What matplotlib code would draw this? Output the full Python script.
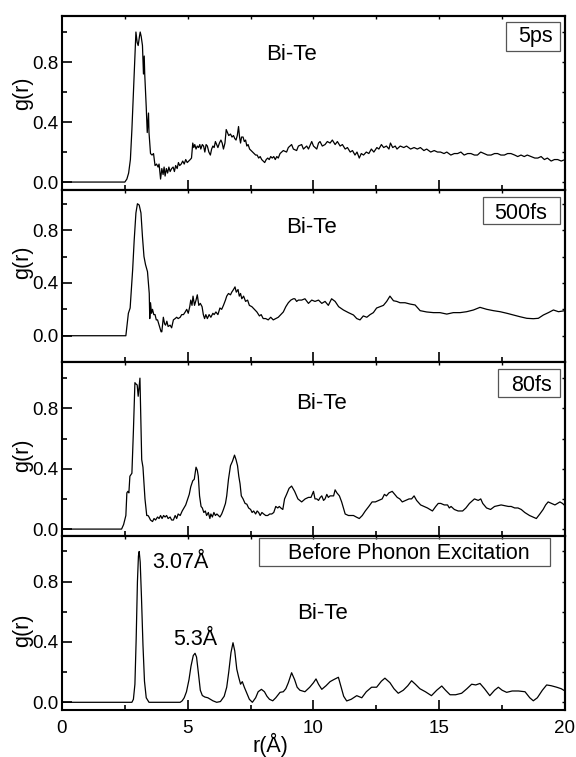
import numpy as np
import matplotlib
matplotlib.use("Agg")
import matplotlib.pyplot as plt
from matplotlib.patches import Rectangle

plt.rcParams["font.family"] = ["Liberation Sans", "DejaVu Sans"]

# g(r), (r, g) pairs
gr_5ps = np.array([
    (0, 0), (2.5, 0), (2.58, 0.02), (2.65, 0.06), (2.72, 0.15), (2.78, 0.35), (2.84, 0.6), (2.9, 0.85),
    (2.94, 1.0), (2.99, 0.93), (3.03, 0.91), (3.08, 0.97), (3.11, 1.0), (3.15, 0.97), (3.2, 0.91),
    (3.24, 0.72), (3.27, 0.84), (3.29, 0.72), (3.35, 0.5), (3.39, 0.33), (3.44, 0.46), (3.46, 0.33),
    (3.52, 0.19), (3.58, 0.18), (3.64, 0.19), (3.7, 0.11), (3.76, 0.12), (3.82, 0.1), (3.86, 0.12),
    (3.92, 0.02), (3.97, 0.09), (4.02, 0.05), (4.06, 0.1), (4.1, 0.04), (4.15, 0.09), (4.2, 0.06),
    (4.25, 0.1), (4.3, 0.07), (4.36, 0.09), (4.42, 0.1), (4.47, 0.07), (4.52, 0.11), (4.58, 0.09),
    (4.63, 0.13), (4.68, 0.11), (4.74, 0.12), (4.8, 0.14), (4.86, 0.12), (4.92, 0.15), (4.98, 0.13),
    (5.04, 0.14), (5.1, 0.15), (5.15, 0.16), (5.2, 0.26), (5.24, 0.23), (5.28, 0.25), (5.33, 0.22),
    (5.38, 0.24), (5.43, 0.23), (5.48, 0.25), (5.52, 0.22), (5.58, 0.25), (5.63, 0.24), (5.68, 0.2),
    (5.73, 0.25), (5.78, 0.24), (5.84, 0.2), (5.9, 0.18), (5.95, 0.22), (6.0, 0.24), (6.05, 0.23),
    (6.1, 0.27), (6.15, 0.25), (6.2, 0.23), (6.26, 0.26), (6.32, 0.28), (6.37, 0.26), (6.42, 0.22),
    (6.48, 0.26), (6.53, 0.35), (6.58, 0.33), (6.63, 0.31), (6.7, 0.32), (6.76, 0.3), (6.82, 0.31),
    (6.87, 0.29), (6.92, 0.28), (6.97, 0.31), (7.02, 0.37), (7.06, 0.3), (7.1, 0.26), (7.14, 0.3),
    (7.2, 0.3), (7.25, 0.27), (7.3, 0.28), (7.35, 0.24), (7.4, 0.25), (7.46, 0.22), (7.52, 0.21),
    (7.58, 0.2), (7.64, 0.19), (7.7, 0.18), (7.76, 0.18), (7.82, 0.16), (7.88, 0.17), (7.94, 0.15),
    (8.0, 0.14), (8.06, 0.13), (8.12, 0.15), (8.18, 0.16), (8.24, 0.15), (8.3, 0.17), (8.36, 0.16),
    (8.42, 0.17), (8.48, 0.15), (8.54, 0.17), (8.6, 0.16), (8.67, 0.19), (8.8, 0.21), (8.93, 0.2),
    (9.0, 0.23), (9.13, 0.25), (9.2, 0.22), (9.33, 0.21), (9.4, 0.24), (9.53, 0.25), (9.6, 0.22),
    (9.73, 0.24), (9.8, 0.22), (9.93, 0.27), (10.0, 0.24), (10.13, 0.22), (10.2, 0.26), (10.26, 0.27),
    (10.35, 0.24), (10.46, 0.25), (10.55, 0.27), (10.66, 0.26), (10.75, 0.28), (10.86, 0.25),
    (10.95, 0.27), (11.06, 0.24), (11.15, 0.25), (11.26, 0.22), (11.35, 0.23), (11.46, 0.2),
    (11.55, 0.21), (11.65, 0.18), (11.73, 0.2), (11.82, 0.16), (11.9, 0.19), (11.99, 0.18),
    (12.1, 0.2), (12.2, 0.19), (12.3, 0.22), (12.4, 0.2), (12.52, 0.23), (12.6, 0.22), (12.7, 0.25),
    (12.79, 0.23), (12.9, 0.24), (13.0, 0.22), (13.06, 0.26), (13.15, 0.23), (13.25, 0.24),
    (13.32, 0.22), (13.45, 0.24), (13.59, 0.23), (13.7, 0.24), (13.86, 0.22), (14.0, 0.23),
    (14.13, 0.22), (14.25, 0.23), (14.39, 0.21), (14.5, 0.22), (14.66, 0.2), (14.8, 0.21),
    (14.93, 0.2), (15.05, 0.2), (15.19, 0.19), (15.3, 0.2), (15.46, 0.18), (15.6, 0.19),
    (15.73, 0.19), (15.86, 0.2), (15.99, 0.18), (16.13, 0.19), (16.26, 0.19), (16.4, 0.18),
    (16.52, 0.18), (16.65, 0.2), (16.79, 0.19), (16.92, 0.18), (17.06, 0.18), (17.2, 0.19),
    (17.32, 0.19), (17.45, 0.18), (17.59, 0.18), (17.72, 0.19), (17.85, 0.19), (18.0, 0.18),
    (18.12, 0.17), (18.25, 0.18), (18.38, 0.17), (18.5, 0.18), (18.65, 0.17), (18.8, 0.16),
    (18.92, 0.16), (19.05, 0.17), (19.18, 0.15), (19.3, 0.16), (19.45, 0.14), (19.58, 0.15),
    (19.71, 0.15), (19.85, 0.14), (20.0, 0.15),
])

gr_500fs = np.array([
    (0, 0), (2.54, 0), (2.6, 0.1), (2.64, 0.17), (2.71, 0.21), (2.76, 0.35), (2.81, 0.5), (2.87, 0.72),
    (2.94, 0.93), (3.0, 1.0), (3.07, 0.99), (3.14, 0.93), (3.2, 0.75), (3.26, 0.6), (3.32, 0.54),
    (3.4, 0.485), (3.47, 0.32), (3.49, 0.13), (3.52, 0.25), (3.56, 0.17), (3.6, 0.2), (3.65, 0.16),
    (3.7, 0.16), (3.75, 0.12), (3.8, 0.12), (3.88, 0.07), (3.94, 0.03), (3.97, 0.03), (4.03, 0.14),
    (4.08, 0.09), (4.12, 0.08), (4.17, 0.11), (4.22, 0.07), (4.3, 0.08), (4.36, 0.06), (4.43, 0.12),
    (4.5, 0.13), (4.56, 0.14), (4.62, 0.13), (4.7, 0.14), (4.76, 0.16), (4.83, 0.16), (4.9, 0.18),
    (4.96, 0.2), (5.02, 0.17), (5.08, 0.22), (5.12, 0.27), (5.17, 0.23), (5.21, 0.3), (5.27, 0.23),
    (5.33, 0.27), (5.38, 0.31), (5.44, 0.23), (5.5, 0.245), (5.57, 0.22), (5.62, 0.16), (5.67, 0.13),
    (5.72, 0.16), (5.78, 0.13), (5.85, 0.16), (5.92, 0.14), (6.0, 0.17), (6.05, 0.16), (6.12, 0.18),
    (6.2, 0.16), (6.28, 0.21), (6.35, 0.2), (6.42, 0.23), (6.5, 0.27), (6.55, 0.3), (6.62, 0.32),
    (6.7, 0.31), (6.75, 0.33), (6.82, 0.35), (6.88, 0.37), (6.93, 0.33), (7.0, 0.35), (7.05, 0.3),
    (7.1, 0.32), (7.15, 0.28), (7.22, 0.3), (7.3, 0.26), (7.38, 0.27), (7.45, 0.23), (7.55, 0.22),
    (7.65, 0.2), (7.75, 0.18), (7.85, 0.15), (7.92, 0.16), (8.0, 0.13), (8.1, 0.13), (8.2, 0.12),
    (8.3, 0.14), (8.4, 0.12), (8.5, 0.13), (8.6, 0.14), (8.7, 0.16), (8.8, 0.18), (8.9, 0.22),
    (9.0, 0.25), (9.1, 0.27), (9.2, 0.28), (9.26, 0.28), (9.33, 0.26), (9.4, 0.27), (9.53, 0.27),
    (9.66, 0.28), (9.8, 0.245), (9.93, 0.27), (10.06, 0.26), (10.2, 0.27), (10.33, 0.245),
    (10.46, 0.26), (10.59, 0.23), (10.72, 0.28), (10.86, 0.26), (11.0, 0.22), (11.19, 0.195),
    (11.39, 0.175), (11.59, 0.157), (11.72, 0.13), (11.85, 0.12), (11.98, 0.15), (12.12, 0.14),
    (12.25, 0.16), (12.38, 0.175), (12.51, 0.21), (12.65, 0.22), (12.78, 0.23), (12.91, 0.26),
    (13.04, 0.3), (13.18, 0.265), (13.31, 0.26), (13.44, 0.25), (13.64, 0.25), (13.84, 0.24),
    (14.04, 0.233), (14.24, 0.19), (14.5, 0.18), (14.77, 0.175), (15.03, 0.175), (15.3, 0.164),
    (15.56, 0.175), (15.83, 0.175), (16.09, 0.182), (16.36, 0.195), (16.62, 0.215), (16.89, 0.2),
    (17.15, 0.19), (17.42, 0.182), (17.69, 0.17), (17.95, 0.157), (18.21, 0.144), (18.48, 0.132),
    (18.74, 0.129), (18.94, 0.132), (19.14, 0.157), (19.34, 0.175), (19.54, 0.195), (19.74, 0.182),
    (20.0, 0.19),
])

gr_80fs = np.array([
    (0, 0), (2.37, 0), (2.45, 0.03), (2.54, 0.09), (2.58, 0.24), (2.62, 0.25), (2.66, 0.24), (2.7, 0.35),
    (2.78, 0.37), (2.84, 0.65), (2.9, 0.97), (2.95, 0.96), (2.99, 0.955), (3.03, 0.88), (3.07, 0.95),
    (3.1, 1.0), (3.14, 0.7), (3.17, 0.46), (3.22, 0.41), (3.3, 0.2), (3.37, 0.09), (3.42, 0.09),
    (3.46, 0.08), (3.52, 0.06), (3.6, 0.05), (3.66, 0.07), (3.72, 0.06), (3.8, 0.08), (3.86, 0.07),
    (3.92, 0.09), (3.98, 0.07), (4.04, 0.09), (4.1, 0.08), (4.16, 0.09), (4.22, 0.07), (4.3, 0.08),
    (4.36, 0.06), (4.43, 0.06), (4.5, 0.09), (4.56, 0.07), (4.62, 0.1), (4.7, 0.09), (4.78, 0.12),
    (4.85, 0.14), (4.92, 0.16), (5.0, 0.2), (5.06, 0.23), (5.12, 0.28), (5.2, 0.32), (5.26, 0.33),
    (5.33, 0.41), (5.38, 0.39), (5.42, 0.35), (5.47, 0.22), (5.53, 0.15), (5.58, 0.14), (5.64, 0.11),
    (5.7, 0.12), (5.75, 0.09), (5.82, 0.11), (5.88, 0.07), (5.92, 0.1), (5.98, 0.08), (6.04, 0.11),
    (6.1, 0.09), (6.16, 0.1), (6.22, 0.09), (6.28, 0.08), (6.35, 0.1), (6.42, 0.13), (6.5, 0.17),
    (6.55, 0.22), (6.62, 0.33), (6.7, 0.42), (6.78, 0.45), (6.86, 0.49), (6.92, 0.46), (6.98, 0.42),
    (7.03, 0.35), (7.08, 0.3), (7.13, 0.22), (7.2, 0.2), (7.28, 0.17), (7.35, 0.165), (7.42, 0.14),
    (7.5, 0.13), (7.56, 0.11), (7.62, 0.12), (7.7, 0.1), (7.76, 0.12), (7.82, 0.11), (7.88, 0.09),
    (7.95, 0.11), (8.02, 0.1), (8.1, 0.09), (8.18, 0.09), (8.26, 0.1), (8.34, 0.1), (8.42, 0.11),
    (8.5, 0.15), (8.58, 0.14), (8.64, 0.15), (8.7, 0.14), (8.78, 0.13), (8.85, 0.2), (8.93, 0.23),
    (9.03, 0.27), (9.13, 0.285), (9.25, 0.25), (9.38, 0.2), (9.53, 0.18), (9.67, 0.2), (9.8, 0.21),
    (9.9, 0.21), (10.0, 0.25), (10.06, 0.2), (10.13, 0.2), (10.2, 0.19), (10.27, 0.21), (10.33, 0.22),
    (10.4, 0.19), (10.46, 0.2), (10.53, 0.23), (10.59, 0.21), (10.66, 0.22), (10.73, 0.22),
    (10.8, 0.22), (10.86, 0.26), (10.93, 0.24), (11.03, 0.22), (11.12, 0.18), (11.19, 0.14),
    (11.26, 0.1), (11.39, 0.09), (11.5, 0.09), (11.59, 0.09), (11.7, 0.08), (11.82, 0.07),
    (11.94, 0.09), (12.06, 0.12), (12.2, 0.15), (12.33, 0.18), (12.46, 0.18), (12.6, 0.19),
    (12.73, 0.2), (12.82, 0.23), (12.9, 0.22), (13.0, 0.24), (13.13, 0.25), (13.23, 0.23),
    (13.33, 0.21), (13.43, 0.2), (13.53, 0.18), (13.66, 0.19), (13.8, 0.2), (13.9, 0.2), (14.0, 0.22),
    (14.1, 0.19), (14.26, 0.16), (14.4, 0.15), (14.53, 0.14), (14.63, 0.13), (14.73, 0.12),
    (14.86, 0.15), (14.96, 0.17), (15.06, 0.17), (15.2, 0.16), (15.33, 0.16), (15.4, 0.14),
    (15.47, 0.15), (15.6, 0.13), (15.75, 0.12), (15.93, 0.12), (16.06, 0.14), (16.2, 0.17),
    (16.33, 0.19), (16.4, 0.2), (16.55, 0.19), (16.65, 0.2), (16.73, 0.17), (16.88, 0.14),
    (17.04, 0.13), (17.2, 0.15), (17.33, 0.155), (17.46, 0.16), (17.6, 0.155), (17.75, 0.15),
    (17.86, 0.15), (18.0, 0.14), (18.13, 0.14), (18.26, 0.13), (18.4, 0.11), (18.59, 0.09),
    (18.72, 0.08), (18.86, 0.07), (19.0, 0.1), (19.13, 0.13), (19.23, 0.16), (19.33, 0.18),
    (19.46, 0.17), (19.6, 0.16), (19.7, 0.17), (19.8, 0.18), (19.9, 0.17), (20.0, 0.155),
])

gr_before = np.array([
    (0, 0), (2.78, 0), (2.84, 0.02), (2.9, 0.12), (2.95, 0.42), (3.0, 0.8), (3.04, 0.97), (3.07, 1.0),
    (3.11, 0.93), (3.16, 0.7), (3.22, 0.38), (3.28, 0.14), (3.35, 0.03), (3.46, 0.0), (4.7, 0.0),
    (4.78, 0.01), (4.86, 0.03), (4.95, 0.07), (5.05, 0.15), (5.13, 0.24), (5.22, 0.31), (5.29, 0.325),
    (5.35, 0.3), (5.42, 0.2), (5.5, 0.08), (5.58, 0.045), (5.68, 0.035), (5.8, 0.03), (5.9, 0.02),
    (6.0, 0.01), (6.15, 0.0), (6.3, 0.005), (6.45, 0.04), (6.55, 0.1), (6.63, 0.2), (6.72, 0.33),
    (6.8, 0.395), (6.87, 0.34), (6.95, 0.22), (7.02, 0.17), (7.1, 0.12), (7.17, 0.137), (7.25, 0.1),
    (7.35, 0.06), (7.45, 0.02), (7.57, 0.0), (7.7, 0.03), (7.8, 0.07), (7.93, 0.086), (8.05, 0.07),
    (8.15, 0.04), (8.25, 0.02), (8.38, 0.01), (8.5, 0.03), (8.67, 0.066), (8.8, 0.07), (8.9, 0.09),
    (9.0, 0.13), (9.13, 0.196), (9.25, 0.15), (9.35, 0.1), (9.46, 0.08), (9.66, 0.07), (9.85, 0.1),
    (10.0, 0.13), (10.1, 0.155), (10.2, 0.12), (10.33, 0.086), (10.5, 0.11), (10.66, 0.137),
    (10.8, 0.15), (10.99, 0.166), (11.1, 0.1), (11.2, 0.04), (11.32, 0.009), (11.5, 0.02),
    (11.72, 0.044), (11.92, 0.03), (12.1, 0.07), (12.31, 0.1), (12.51, 0.1), (12.7, 0.14),
    (12.84, 0.16), (13.04, 0.13), (13.2, 0.09), (13.37, 0.06), (13.57, 0.08), (13.75, 0.11),
    (13.9, 0.143), (14.05, 0.12), (14.23, 0.09), (14.45, 0.07), (14.69, 0.044), (14.9, 0.08),
    (15.1, 0.108), (15.25, 0.08), (15.43, 0.05), (15.65, 0.05), (15.89, 0.06), (16.1, 0.09),
    (16.29, 0.12), (16.45, 0.115), (16.62, 0.125), (16.8, 0.09), (17.01, 0.044), (17.2, 0.08),
    (17.35, 0.1), (17.5, 0.08), (17.68, 0.066), (17.9, 0.075), (18.15, 0.075), (18.41, 0.07),
    (18.6, 0.03), (18.74, 0.01), (18.9, 0.03), (19.1, 0.08), (19.27, 0.115), (19.45, 0.11),
    (19.67, 0.10), (19.85, 0.09), (20.0, 0.075),
])

curves = [gr_5ps, gr_500fs, gr_80fs, gr_before]
labels = ["5ps", "500fs", "80fs", "Before Phonon Excitation"]
ylims = [(-0.053, 1.107), (-0.199, 1.104), (-0.046, 1.107), (-0.051, 1.103)]

# axes rectangles (figure fraction) and label/box placement (axes fraction)
rects = [(0.1076, 0.749, 0.8733, 0.2299), (0.1076, 0.5218, 0.8733, 0.2272),
         (0.1076, 0.2919, 0.8733, 0.2299), (0.1076, 0.0621, 0.8733, 0.2299)]
bite_pos = [(0.457, 0.776), (0.496, 0.782), (0.515, 0.759), (0.518, 0.555)]
box_rect = [(0.883, 0.799, 0.107, 0.167), (0.837, 0.802, 0.153, 0.157),
            (0.867, 0.799, 0.123, 0.161), (0.392, 0.828, 0.579, 0.161)]
box_text = [(0.941, 0.882), (0.912, 0.866), (0.934, 0.865), (0.69, 0.899)]
glabel_y = [0.877, 0.654, 0.398, 0.168]

fig = plt.figure(figsize=(5.76, 7.57), dpi=100)
for i in range(4):
    ax = fig.add_axes(rects[i])
    ax.plot(curves[i][:, 0], curves[i][:, 1], c="k", lw=0.9)
    ax.set_xlim(0, 20)
    ax.set_ylim(*ylims[i])
    ax.set_xticks(np.arange(0, 21, 5))
    ax.set_xticks(np.arange(0, 21, 2.5), minor=True)
    ax.set_yticks([0.0, 0.4, 0.8])
    ax.set_yticks([0.2, 0.6, 1.0], minor=True)
    ax.set_yticklabels(["0.0", "0.4", "0.8"])
    ax.tick_params(which="both", direction="in", top=False, right=False, width=1.2, labelsize=13.5)
    ax.tick_params(which="major", length=7)
    ax.tick_params(which="minor", length=3.5)
    ax.tick_params(axis="y", pad=2.5)
    ax.tick_params(axis="x", pad=7)
    if i < 3:
        ax.set_xticklabels([])
    for s in ax.spines.values():
        s.set_linewidth(1.5)
    # short ticks on top and right
    sx = ax.secondary_xaxis("top")
    sx.set_xticks(np.arange(2.5, 20, 2.5))
    sx.tick_params(direction="in", length=2, width=1, labeltop=False)
    sx.spines["top"].set_linewidth(1.5)
    sy = ax.secondary_yaxis("right")
    sy.set_yticks(np.arange(0, 1.01, 0.2))
    sy.tick_params(direction="in", length=2, width=1, labelright=False)
    sy.spines["right"].set_linewidth(1.5)

    ax.text(*bite_pos[i], "Bi-Te", transform=ax.transAxes, ha="center", va="center", fontsize=16)
    ax.add_patch(Rectangle(box_rect[i][:2], box_rect[i][2], box_rect[i][3], transform=ax.transAxes,
                           fill=False, ec="#555555", lw=0.9))
    ax.text(*box_text[i], labels[i], transform=ax.transAxes, ha="center", va="center", fontsize=15.5)
    fig.text(0.04, glabel_y[i], "g(r)", rotation=90, ha="center", va="center", fontsize=15.5)
    if i == 3:
        ax.text(3.58, 0.924, "3.07Å", ha="left", va="center", fontsize=15.5)
        ax.text(4.41, 0.416, "5.3Å", ha="left", va="center", fontsize=15.5)

fig.text(0.469, 0.016, "r(Å)", ha="center", va="center", fontsize=15.5)
fig.savefig("out.png", dpi=100)
